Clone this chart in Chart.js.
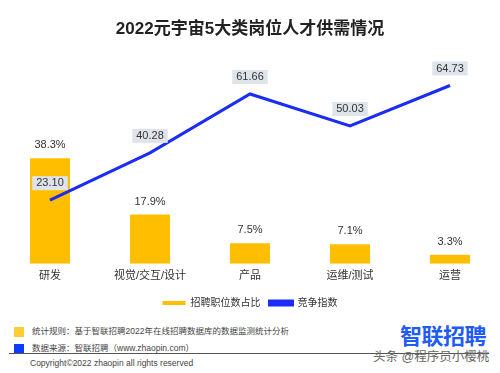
<!DOCTYPE html>
<html>
<head>
<meta charset="utf-8">
<script src="https://cdn.jsdelivr.net/npm/chart.js@4.4.0/dist/chart.umd.min.js"></script>
<style>
  body { margin: 0; background: #fff; font-family: Arial, "Noto Sans CJK SC", sans-serif; }
  #wrap { position: relative; width: 500px; height: 373px; overflow: hidden; }
  #title { position: absolute; top: 14px; left: 0; width: 500px; text-align: center; font-size: 17px; font-weight: bold; color: #222; }
  #chartBox { position: absolute; left: 0; top: 0; width: 500px; height: 318px; }
  .note { position: absolute; left: 14px; font-size: 8.5px; color: #444; }
  .note span { display: inline-block; width: 10px; height: 10px; vertical-align: middle; margin-right: 8px; }
  #rule { position: absolute; left: 9px; top: 353px; width: 480px; height: 1px; background: #555; }
  #copy { position: absolute; left: 30px; top: 358px; font-size: 8.5px; color: #444; }
  #logo { position: absolute; left: 400px; top: 318px; font-size: 22px; font-weight: bold; color: #1f5cf5; letter-spacing: -0.5px; }
  #mark { position: absolute; left: 373px; top: 346px; font-size: 12.5px; color: #666; }
</style>
</head>
<body>
<div id="wrap">
  <div id="chartBox"><canvas id="demandChart" width="500" height="318"></canvas></div>
  <div id="title">2022元宇宙5大类岗位人才供需情况</div>
  <div class="note" style="top:324px"><span style="background:#ffcc33"></span>统计规则：基于智联招聘2022年在线招聘数据库的数据监测统计分析</div>
  <div class="note" style="top:341px"><span style="background:#0a3cff"></span>数据来源：智联招聘（www.zhaopin.com）</div>
  <div id="rule"></div>
  <div id="copy">Copyright©2022 zhaopin all rights reserved</div>
  <div id="logo">智联招聘</div>
  <div id="mark">头条 @程序员小樱桃</div>
</div>
<script>
// categories and values
const jobTypes = ["研发", "视觉/交互/设计", "产品", "运维/测试", "运营"];
const postShare = [38.3, 17.9, 7.5, 7.1, 3.3];
const competition = [23.10, 40.28, 61.66, 50.03, 64.73];

const labelPlugin = {
  id: "valueLabels",
  afterDatasetsDraw(chart) {
    const ctx = chart.ctx;
    ctx.save();
    ctx.font = "11px Arial, 'Noto Sans CJK SC', sans-serif";
    ctx.textAlign = "center";
    ctx.textBaseline = "middle";

    // bar percentages
    chart.getDatasetMeta(0).data.forEach((bar, i) => {
      ctx.fillStyle = "#333";
      ctx.fillText(postShare[i] + "%", bar.x, bar.y - 13);
    });

    // line values in grey boxes
    chart.getDatasetMeta(1).data.forEach((pt, i) => {
      const text = competition[i].toFixed(2);
      const w = ctx.measureText(text).width + 8;
      const y = pt.y - 17;
      ctx.fillStyle = "#dfe3ea";
      ctx.fillRect(pt.x - w / 2, y - 7, w, 14);
      ctx.fillStyle = "#333";
      ctx.fillText(text, pt.x, y);
    });
    ctx.restore();
  }
};

const ctx = document.getElementById("demandChart").getContext("2d");
const chart = new Chart(ctx, {
  data: {
    labels: jobTypes,
    datasets: [
      {
        type: "bar",
        label: "招聘职位数占比",
        data: postShare,
        backgroundColor: "#ffbf00",
        barPercentage: 0.4,
        categoryPercentage: 1,
        order: 2
      },
      {
        type: "line",
        label: "竞争指数",
        data: competition,
        borderColor: "#1a2cf5",
        backgroundColor: "#1a2cf5",
        borderWidth: 3,
        pointRadius: 0,
        tension: 0,
        order: 1
      }
    ]
  },
  options: {
    responsive: false,
    animation: false,
    maintainAspectRatio: false,
    layout: { padding: { top: 71, left: 0, right: 0, bottom: 0 } },
    scales: {
      x: {
        grid: { display: false, drawTicks: false },
        border: { display: false },
        ticks: {
          padding: 6,
          maxRotation: 0,
          color: "#333",
          font: { size: 11, family: "Arial, 'Noto Sans CJK SC', sans-serif" }
        }
      },
      y: {
        display: false,
        min: 0,
        max: 70
      }
    },
    plugins: {
      legend: {
        position: "bottom",
        labels: {
          boxWidth: 23,
          boxHeight: 4,
          padding: 9,
          color: "#333",
          font: { size: 10, family: "Arial, 'Noto Sans CJK SC', sans-serif" },
          sort: (a, b) => a.datasetIndex - b.datasetIndex
        }
      },
      tooltip: { enabled: false }
    }
  },
  plugins: [labelPlugin]
});
</script>
</body>
</html>
